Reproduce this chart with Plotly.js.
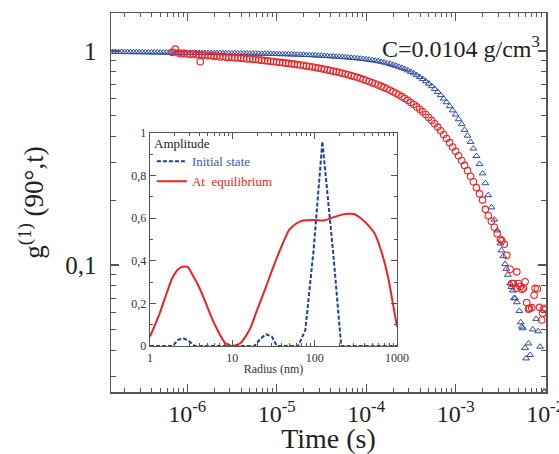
<!DOCTYPE html>
<html>
<head>
<meta charset="utf-8">
<script src="https://cdn.plot.ly/plotly-3.0.1.min.js"></script>
<style>html,body{margin:0;padding:0;background:#fff;}#chart{width:559px;height:454px;}</style>
</head>
<body>
<div id="chart"></div>
<script>
// ---- Main chart: g1(90°, t) versus time ----
const blueTime = [
 1.47e-7,1.58e-7,1.71e-7,1.85e-7,2.0e-7,2.15e-7,2.32e-7,2.51e-7,2.71e-7,2.92e-7,3.16e-7,3.41e-7,3.68e-7,3.98e-7,4.29e-7,4.64e-7,5.01e-7,5.41e-7,5.84e-7,6.31e-7,6.81e-7,7.36e-7,7.94e-7,8.58e-7,9.26e-7,
 1.0e-6,1.08e-6,1.17e-6,1.26e-6,1.36e-6,1.47e-6,1.58e-6,1.71e-6,1.85e-6,2.0e-6,2.15e-6,2.32e-6,2.51e-6,2.71e-6,2.92e-6,3.16e-6,3.41e-6,3.68e-6,3.98e-6,4.29e-6,4.64e-6,5.01e-6,5.41e-6,5.84e-6,6.31e-6,6.81e-6,7.36e-6,7.94e-6,8.58e-6,9.26e-6,
 1.0e-5,1.08e-5,1.17e-5,1.26e-5,1.36e-5,1.47e-5,1.58e-5,1.71e-5,1.85e-5,2.0e-5,2.15e-5,2.32e-5,2.51e-5,2.71e-5,2.92e-5,3.16e-5,3.41e-5,3.68e-5,3.98e-5,4.29e-5,4.64e-5,5.01e-5,5.41e-5,5.84e-5,6.31e-5,6.81e-5,7.36e-5,7.94e-5,8.58e-5,9.26e-5,
 1.0e-4,1.08e-4,1.17e-4,1.26e-4,1.36e-4,1.47e-4,1.58e-4,1.71e-4,1.85e-4,2.0e-4,2.15e-4,2.32e-4,2.51e-4,2.71e-4,2.92e-4,3.16e-4,3.41e-4,3.68e-4,3.98e-4,4.29e-4,4.64e-4,5.01e-4,5.41e-4,5.84e-4,6.31e-4,6.81e-4,7.36e-4,7.94e-4,8.58e-4,9.26e-4,
 1.0e-3,1.08e-3,1.17e-3,1.26e-3,1.36e-3,1.47e-3,1.58e-3,1.71e-3,1.85e-3,2.0e-3,2.15e-3,2.32e-3,2.51e-3,2.71e-3,2.92e-3,3.16e-3,
 3.25e-3,3.4e-3,3.57e-3,3.7e-3,3.83e-3,4.06e-3,4.2e-3,4.37e-3,4.5e-3,4.62e-3,4.83e-3,5.16e-3,5.35e-3,5.5e-3,5.64e-3,5.98e-3,6.14e-3,6.53e-3,6.8e-3,7.28e-3,7.93e-3,8.36e-3,8.8e-3,9.7e-3,9.9e-3
];
const blueG = [
 0.990,0.991,0.989,0.990,0.988,0.989,0.988,0.987,0.988,0.986,0.987,0.986,0.985,0.986,0.984,0.985,0.984,0.983,0.984,0.982,0.983,0.982,0.981,0.982,0.981,
 0.980,0.981,0.980,0.979,0.980,0.979,0.978,0.979,0.978,0.977,0.978,0.977,0.976,0.977,0.976,0.975,0.976,0.975,0.974,0.975,0.974,0.973,0.973,0.972,0.972,0.971,0.971,0.970,0.970,0.969,
 0.968,0.967,0.966,0.966,0.965,0.964,0.963,0.962,0.961,0.959,0.958,0.957,0.955,0.954,0.952,0.951,0.949,0.947,0.945,0.943,0.941,0.939,0.937,0.935,0.932,0.930,0.927,0.924,0.921,0.918,
 0.914,0.910,0.906,0.901,0.896,0.890,0.884,0.877,0.870,0.861,0.853,0.844,0.834,0.823,0.812,0.799,0.786,0.771,0.756,0.740,0.722,0.704,0.685,0.665,0.644,0.622,0.599,0.576,0.552,0.528,
 0.505,0.480,0.455,0.428,0.402,0.376,0.350,0.323,0.296,0.268,0.241,0.212,0.186,0.163,0.145,0.126,
 0.117,0.110,0.101,0.096,0.090,0.082,0.079,0.076,0.070,0.0699,0.067,0.061,0.054,0.0515,0.0506,0.041,0.0366,0.043,0.038,0.050,0.056,0.049,0.0415,0.0256,0.0256
];
const redTime = [
 6.81e-7,7.36e-7,7.94e-7,8.58e-7,9.26e-7,
 1.0e-6,1.08e-6,1.17e-6,1.26e-6,1.36e-6,1.40e-6,1.47e-6,1.58e-6,1.71e-6,1.85e-6,2.0e-6,2.15e-6,2.32e-6,2.51e-6,2.71e-6,2.92e-6,3.16e-6,3.41e-6,3.68e-6,3.98e-6,4.29e-6,4.64e-6,5.01e-6,5.41e-6,5.84e-6,6.31e-6,6.81e-6,7.36e-6,7.94e-6,8.58e-6,9.26e-6,
 1.0e-5,1.08e-5,1.17e-5,1.26e-5,1.36e-5,1.47e-5,1.58e-5,1.71e-5,1.85e-5,2.0e-5,2.15e-5,2.32e-5,2.51e-5,2.71e-5,2.92e-5,3.16e-5,3.41e-5,3.68e-5,3.98e-5,4.29e-5,4.64e-5,5.01e-5,5.41e-5,5.84e-5,6.31e-5,6.81e-5,7.36e-5,7.94e-5,8.58e-5,9.26e-5,
 1.0e-4,1.08e-4,1.17e-4,1.26e-4,1.36e-4,1.47e-4,1.58e-4,1.71e-4,1.85e-4,2.0e-4,2.15e-4,2.32e-4,2.51e-4,2.71e-4,2.92e-4,3.16e-4,3.41e-4,3.68e-4,3.98e-4,4.29e-4,4.64e-4,5.01e-4,5.41e-4,5.84e-4,6.31e-4,6.81e-4,7.36e-4,7.94e-4,8.58e-4,9.26e-4,
 1.0e-3,1.08e-3,1.17e-3,1.26e-3,1.36e-3,1.47e-3,1.58e-3,1.71e-3,1.85e-3,2.0e-3,2.15e-3,2.32e-3,2.51e-3,2.71e-3,2.92e-3,3.16e-3,
 3.28e-3,3.5e-3,3.73e-3,4.06e-3,4.25e-3,4.43e-3,4.74e-3,4.83e-3,5.04e-3,5.26e-3,5.5e-3,5.73e-3,5.98e-3,6.24e-3,6.53e-3,6.68e-3,7.1e-3,7.53e-3,7.73e-3,8.2e-3,8.65e-3,9.18e-3,9.4e-3,9.58e-3,1.0e-2
];
const redG = [
 0.985,1.020,0.978,0.972,0.975,
 0.968,0.963,0.971,0.960,0.962,0.890,0.955,0.958,0.949,0.953,0.944,0.948,0.938,0.942,0.935,0.932,0.936,0.927,0.930,0.924,0.926,0.918,0.920,0.913,0.915,0.908,0.906,0.902,0.899,0.896,0.893,
 0.889,0.885,0.882,0.878,0.875,0.871,0.868,0.864,0.860,0.855,0.851,0.847,0.842,0.837,0.832,0.827,0.822,0.816,0.811,0.805,0.799,0.793,0.787,0.781,0.774,0.767,0.760,0.753,0.745,0.737,
 0.728,0.720,0.711,0.703,0.694,0.685,0.676,0.666,0.656,0.645,0.635,0.624,0.612,0.600,0.588,0.575,0.562,0.548,0.534,0.520,0.505,0.489,0.473,0.457,0.441,0.424,0.407,0.390,0.373,0.356,
 0.340,0.324,0.308,0.292,0.276,0.260,0.245,0.230,0.215,0.201,0.182,0.170,0.160,0.150,0.140,0.132,
 0.130,0.125,0.111,0.0955,0.082,0.082,0.0778,0.0929,0.082,0.0792,0.077,0.0778,0.0835,0.0667,0.0621,0.0628,0.0632,0.0722,0.0778,0.0774,0.0634,0.0553,0.0595,0.0621,0.0628
];
const xTickVals = [1e-6,1e-5,1e-4,1e-3,1e-2];
const xTickText = ['10<sup>-6</sup>','10<sup>-5</sup>','10<sup>-4</sup>','10<sup>-3</sup>','10<sup>-2</sup>'];
const yTickVals = [0.1,1];
const yTickText = ['0,1','1'];

// ---- Inset: amplitude versus radius ----
const initRadius = [1,1.87,2.24,2.56,2.93,3.5,18.5,22,25.7,30.2,34.8,63,77,97,124,168,210,1000];
const initAmp    = [0,0,0.031,0.035,0.025,0,0,0.035,0.055,0.044,0,0,0.075,0.45,0.96,0.436,0,0];
const eqRadius = [1,1.3,1.6,1.87,2.2,2.56,2.9,3.2,3.8,4.6,5.5,6.6,8.2,10,12.5,14.5,16.8,20,24.8,30,36.6,49,60,72,100,129,171,220,262,300,363,440,531,650,776,900,1000];
const eqAmp    = [0.044,0.15,0.25,0.32,0.36,0.373,0.37,0.342,0.29,0.216,0.14,0.075,0.013,0,0.013,0.045,0.09,0.17,0.263,0.35,0.436,0.545,0.575,0.589,0.592,0.589,0.605,0.618,0.621,0.62,0.60,0.57,0.53,0.44,0.326,0.19,0.09];
const insetXTickVals = [1,10,100,1000];
const insetXTickText = ['1','10','100','1000'];
const insetYTickVals = [0,0.2,0.4,0.6,0.8,1];
const insetYTickText = ['0','0,2','0,4','0,6','0,8','1'];

const BLUE = '#2d4b9f';
const RED = '#ee2224';
const SERIF = "'Liberation Serif', 'DejaVu Serif', serif";

function logMinor(lo, hi) {
  const out = [];
  for (let e = lo; e <= hi; e++) for (let m = 2; m <= 9; m++) out.push(m * Math.pow(10, e));
  return out;
}

const traces = [
  {x: blueTime, y: blueG, type: 'scatter', mode: 'markers', name: 'Initial', showlegend: false,
   marker: {symbol: 'triangle-up-open', size: 6, color: BLUE, line: {width: 1, color: BLUE}}, xaxis: 'x', yaxis: 'y'},
  {x: redTime, y: redG, type: 'scatter', mode: 'markers', name: 'Equilibrium', showlegend: false,
   marker: {symbol: 'circle-open', size: 6.5, color: RED, line: {width: 1.1, color: RED}}, xaxis: 'x', yaxis: 'y'},
  {x: initRadius, y: initAmp, type: 'scatter', mode: 'lines', name: '<span style="color:#3a5ea8">Initial state</span>',
   line: {color: '#1f3f9a', width: 2, dash: '4px,2px'}, xaxis: 'x2', yaxis: 'y2'},
  {x: eqRadius, y: eqAmp, type: 'scatter', mode: 'lines', name: '<span style="color:#ee2224">At  equilibrium</span>',
   line: {color: RED, width: 2, shape: 'spline', smoothing: 0.6}, xaxis: 'x2', yaxis: 'y2'}
];

const axisCommon = {showline: true, linecolor: '#555', linewidth: 1.5, mirror: 'ticks',
  ticks: 'inside', tickcolor: '#555', tickwidth: 1.2, showgrid: false, zeroline: false};

const layout = {
  width: 559, height: 454,
  margin: {l: 111, r: 13, t: 13, b: 62},
  paper_bgcolor: '#fff', plot_bgcolor: '#fff',
  font: {family: SERIF, color: '#222'},
  showlegend: true,
  legend: {x: 0.094, y: 0.648, xanchor: 'left', yanchor: 'top', bgcolor: 'rgba(0,0,0,0)',
           font: {family: SERIF, size: 13}, tracegroupgap: 0, itemwidth: 30},
  xaxis: Object.assign({}, axisCommon, {
    type: 'log', range: [Math.log10(1.41e-7), -1.99], domain: [0, 1],
    tickmode: 'array', tickvals: xTickVals, ticktext: xTickText, ticklen: 8,
    ticklabeloverflow: 'allow',
    tickfont: {family: SERIF, size: 24, color: '#222'},
    minor: {ticks: 'inside', ticklen: 4, tickcolor: '#555', tickwidth: 1, tickvals: logMinor(-7, -3)},
    title: {text: 'Time (s)', font: {family: SERIF, size: 28, color: '#222'}, standoff: 12}
  }),
  yaxis: Object.assign({}, axisCommon, {
    type: 'log', range: [Math.log10(0.0255), Math.log10(1.505)], domain: [0, 1],
    tickmode: 'array', tickvals: yTickVals, ticktext: yTickText, ticklen: 8,
    ticklabelstandoff: 8,
    tickfont: {family: SERIF, size: 25, color: '#222'},
    minor: {ticks: 'inside', ticklen: 5, tickcolor: '#555', tickwidth: 1, tickvals: logMinor(-2, 0)},
    title: {text: 'g<sup>(1)</sup> (90°,t)', font: {family: SERIF, size: 27, color: '#222'}, standoff: 14}
  }),
  xaxis2: Object.assign({}, axisCommon, {
    type: 'log', range: [0, 3], domain: [0.0897, 0.6575], anchor: 'y2',
    linewidth: 1.3, tickwidth: 1,
    tickmode: 'array', tickvals: insetXTickVals, ticktext: insetXTickText, ticklen: 6,
    tickfont: {family: SERIF, size: 12, color: '#333'},
    minor: {ticks: 'inside', ticklen: 3, tickcolor: '#555', tickwidth: 1, tickvals: logMinor(0, 2)},
    title: {text: 'Radius (nm)', font: {family: SERIF, size: 12, color: '#333'}, standoff: 1}
  }),
  yaxis2: Object.assign({}, axisCommon, {
    range: [0, 1], domain: [0.1214, 0.6834], anchor: 'x2',
    linewidth: 1.3, tickwidth: 1,
    tickmode: 'array', tickvals: insetYTickVals, ticktext: insetYTickText, ticklen: 6,
    tickfont: {family: SERIF, size: 12, color: '#333'},
    minor: {ticks: 'inside', ticklen: 3, tickcolor: '#555', tickwidth: 1, tickvals: [0.1,0.3,0.5,0.7,0.9]}
  }),
  annotations: [
    {text: 'C=0.0104 g/cm<sup>3</sup>', xref: 'paper', yref: 'paper', x: 0.99, y: 0.91,
     xanchor: 'right', yanchor: 'middle', showarrow: false, font: {family: SERIF, size: 24, color: '#222'}},
    {text: 'Amplitude', xref: 'paper', yref: 'paper', x: 0.094, y: 0.656,
     xanchor: 'left', yanchor: 'middle', showarrow: false, font: {family: SERIF, size: 13, color: '#222'}}
  ]
};

Plotly.newPlot('chart', traces, layout, {displayModeBar: false, staticPlot: true});
</script>
</body>
</html>
